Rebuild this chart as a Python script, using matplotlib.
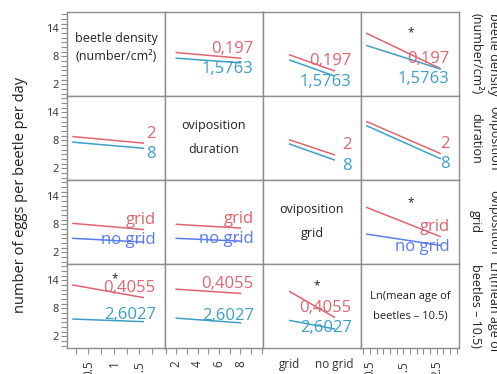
import numpy as np
import matplotlib.pyplot as plt
from matplotlib.transforms import blended_transform_factory

plt.rcParams['font.family'] = ['Open Sans', 'DejaVu Sans']

# variables of the interaction matrix (row variable = line levels, column variable = x axis)
var_titles = ['beetle density\n(number/cm\u00b2)', 'oviposition\nduration',
              'oviposition\ngrid', 'Ln(mean age of\nbeetles \u2013 10.5)']
side_titles = ['beetle density\n(number/cm\u00b2)', 'oviposition\nduration',
               'oviposition\ngrid', 'Ln(mean age of\nbeetles \u2013 10.5)']

density_x = [0.197, 1.5763]
duration_x = [2, 8]
grid_x = [0, 1]
age_x = [0.4055, 2.6027]
level_x = [density_x, duration_x, grid_x, age_x]

density_levels = ['0,197', '1,5763']
duration_levels = ['2', '8']
grid_levels = ['grid', 'no grid']
age_levels = ['0,4055', '2,6027']
level_labels = [density_levels, duration_levels, grid_levels, age_levels]

# x tick labels per column
density_ticks = [0.5, 1, 1.5]
density_ticklabels = ['0.5', '1', '1.5']
duration_ticks = [2, 4, 6, 8]
duration_ticklabels = ['2', '4', '6', '8']
grid_ticks = [0, 1]
grid_ticklabels = ['grid', 'no grid']
age_ticks = [0.5, 1.5, 2.5]
age_ticklabels = ['0.5', '1.5', '2.5']

# mean eggs per beetle per day: [first level line, second level line]
means = {
    (0, 1): [[8.8, 7.6], [7.6, 6.6]],
    (0, 2): [[8.3, 4.9], [7.2, 3.8]],
    (0, 3): [[12.9, 5.4], [10.3, 5.3]],
    (1, 0): [[8.8, 7.4], [7.6, 6.3]],
    (1, 2): [[8.1, 4.9], [7.2, 3.8]],
    (1, 3): [[12.0, 5.2], [11.1, 4.1]],
    (2, 0): [[8.2, 6.9], [5.0, 4.2]],
    (2, 1): [[8.0, 7.2], [5.0, 4.4]],
    (2, 3): [[11.6, 5.4], [5.9, 3.5]],
    (3, 0): [[13.0, 10.3], [5.7, 5.15]],
    (3, 1): [[12.1, 11.2], [5.9, 4.9]],
    (3, 2): [[11.6, 6.1], [5.4, 3.6]],
}
significant = [(0, 3), (2, 3), (3, 0), (3, 2)]

red = '#e0646f'
teal = '#3d9fc7'
blue = '#5a7cec'
row_colors = [[red, teal], [red, teal], [red, blue], [red, teal]]
frame = '#8c8c8c'

xlims = [(0.08, 2.0), (0.95, 10.1), (-0.6, 1.6), (0.23, 3.17)]
minor_x = [np.arange(0.25, 2.0, 0.25), np.arange(1, 11, 1), [], np.arange(0.3, 3.2, 0.2)]
major_x = [density_ticks, duration_ticks, grid_ticks, age_ticks]
major_lab = [density_ticklabels, duration_ticklabels, grid_ticklabels, age_ticklabels]

fig = plt.figure(figsize=(4.97, 3.74), dpi=100)
gs = fig.add_gridspec(4, 4, left=0.1348, right=0.9235, top=0.968, bottom=0.0695,
                      wspace=0, hspace=0)

for r in range(4):
    for c in range(4):
        ax = fig.add_subplot(gs[r, c])
        ax.set_xlim(*xlims[c])
        ax.set_ylim(-0.5, 17.5)
        for s in ax.spines.values():
            s.set_color(frame)
            s.set_linewidth(1.0)

        # y axis only in first column
        if c == 0:
            ax.set_yticks([2, 8, 14])
            ax.set_yticks(np.arange(0, 18, 1), minor=True)
            ax.tick_params(axis='y', which='both', direction='out', length=4,
                           width=0.8, color=frame, labelsize=8, pad=2,
                           labelcolor='#333333')
        else:
            ax.set_yticks([])

        # x axis only in last row
        if r == 3:
            ax.set_xticks(major_x[c])
            ax.set_xticks(minor_x[c], minor=True)
            if c == 2:
                ax.set_xticklabels(major_lab[c], fontsize=8.5, color='#333333')
                ax.tick_params(axis='x', which='both', length=0, pad=7)
            else:
                ax.set_xticklabels(major_lab[c], rotation=90, fontsize=8.5,
                                   color='#333333')
                ax.tick_params(axis='x', which='both', direction='out', length=4,
                               width=0.8, color=frame, pad=5)
        else:
            ax.set_xticks([])

        if r == c:
            fs = 8 if r == 3 else 9
            ls = 2.1 if r in (1, 2) else (1.45 if r == 0 else 2.1)
            ty = 0.58 if r == 0 else 0.5
            ax.text(0.5, ty, var_titles[r], transform=ax.transAxes, ha='center',
                    va='center', fontsize=fs, linespacing=ls, color='#222222')
            continue

        xs = level_x[c]
        lines = means[(r, c)]
        cols = row_colors[r]
        for k in range(2):
            ax.plot(xs, lines[k], color=cols[k], lw=1.1)

        # level labels next to line ends
        trans = blended_transform_factory(ax.transAxes, ax.transData)
        red_y = lines[0][1] + 2.0
        other_y = min(lines[1][1] + 1.5, red_y - 4.3)
        ax.text(0.905, red_y, level_labels[r][0], transform=trans, ha='right',
                va='center', fontsize=12, color=cols[0])
        ax.text(0.905, other_y, level_labels[r][1], transform=trans, ha='right',
                va='center', fontsize=12, color=cols[1])

        # significance mark above the first line
        if (r, c) in significant:
            sx = xs[0] + 0.6 * (xs[1] - xs[0])
            red_at = lines[0][0] + 0.6 * (lines[0][1] - lines[0][0])
            sy = min(lines[0][0] + 1.3, red_at + 4.7)
            ax.text(sx, sy, '*', ha='center', va='center',
                    fontsize=8.5, color='#222222')

# right-side variable names
row_centers = [54, 138, 222, 306]
for r in range(4):
    fig.text(0.975, 1 - row_centers[r] / 374, side_titles[r], rotation=-90,
             ha='center', va='center', fontsize=9, linespacing=1.5,
             color='#222222', multialignment='center')

fig.text(0.042, 0.48, 'number of eggs per beetle per day', rotation=90,
         ha='center', va='center', fontsize=10.5, color='#222222')

fig.savefig('out.png', dpi=100)
